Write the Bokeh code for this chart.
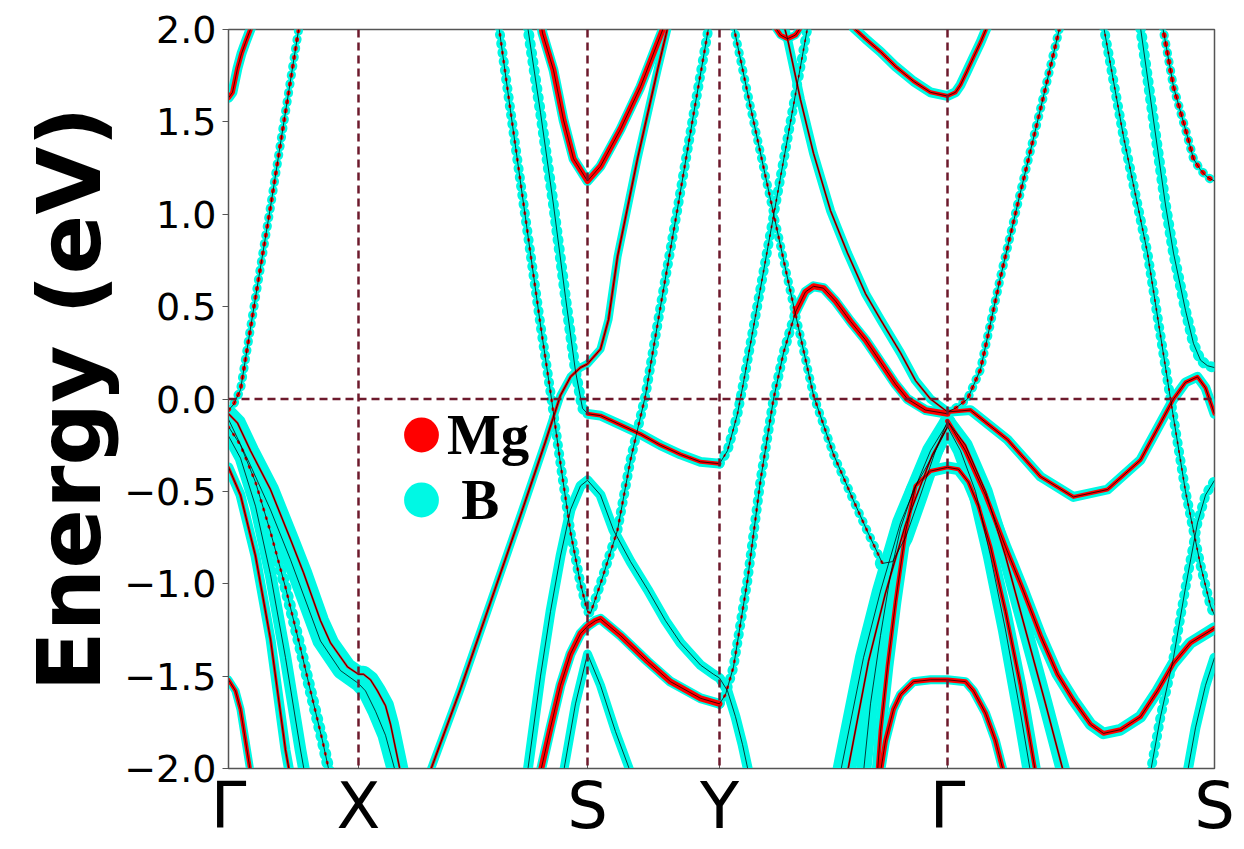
from bokeh.plotting import figure
from bokeh.models import Range1d, FixedTicker, CustomJSTickFormatter, Span, Legend, LegendItem
from bokeh.embed import file_html
from bokeh.resources import INLINE

# ---------------- data ----------------
k_ticks = [0, 130, 359, 491, 719, 986]
k_labels = ["Γ", "X", "S", "Y", "Γ", "S"]
e_ticks = [-2.0, -1.5, -1.0, -0.5, 0.0, 0.5, 1.0, 1.5, 2.0]

# Γ–X
A_k = [0, 4, 9, 13, 17, 24]
A_E = [1.63, 1.66, 1.79, 1.87, 1.93, 2.03]
B_k = [0, 5, 12, 27, 42, 56, 71]
B_E = [-0.06, -0.03, 0.05, 0.55, 1.04, 1.52, 2.03]
V1_k = [0, 9, 22, 42, 62, 75, 92, 102, 119, 130, 135, 142, 149, 157, 162, 172]
V1_E = [-0.08, -0.13, -0.28, -0.49, -0.76, -0.94, -1.20, -1.32, -1.45, -1.49, -1.49, -1.52, -1.58, -1.66, -1.76, -2.02]
V2_k = [0, 22, 42, 62, 92, 112, 130, 137, 147, 157, 167]
V2_E = [-0.11, -0.36, -0.60, -0.87, -1.31, -1.47, -1.54, -1.58, -1.69, -1.82, -2.02]
V3_k = [0, 12, 27, 42, 57, 72, 82, 94, 102]
V3_E = [-0.15, -0.25, -0.45, -0.72, -1.02, -1.35, -1.58, -1.85, -2.05]
V4_k = [0, 12, 27, 42, 57, 72, 77]
V4_E = [-0.20, -0.32, -0.58, -0.95, -1.40, -1.90, -2.05]
V5_k = [0, 12, 27, 42, 57, 62]
V5_E = [-0.37, -0.52, -0.85, -1.30, -1.90, -2.05]
D_k = [0, 7, 12, 17, 22]
D_E = [-1.52, -1.58, -1.68, -1.85, -2.02]

# X–S–Y
Eb_k = [202, 232, 262, 292, 317, 332, 342, 352, 359, 372, 380, 389, 409, 429, 440]
Eb_E = [-2.01, -1.57, -1.10, -0.63, -0.23, 0.02, 0.12, 0.17, 0.19, 0.27, 0.43, 0.77, 1.30, 1.78, 2.03]
G_k = [269, 282, 297, 312, 323, 332, 342, 352, 359, 362, 372, 389, 402, 417, 432, 449, 465, 482]
G_E = [2.07, 1.56, 0.98, 0.40, 0.0, -0.35, -0.72, -1.00, -1.15, -1.16, -1.00, -0.71, -0.33, 0.02, 0.50, 1.03, 1.54, 2.07]
F2a_k = [299, 312, 325, 337, 347, 354, 359]
F2a_E = [2.02, 1.55, 1.05, 0.55, 0.15, -0.05, -0.08]
F2b_k = [359, 372, 392, 412, 432, 452, 472, 491]
F2b_E = [-0.08, -0.09, -0.14, -0.19, -0.25, -0.30, -0.34, -0.35]
F2c_k = [491, 499, 509, 515, 532, 552, 579]
F2c_E = [-0.35, -0.28, -0.08, 0.09, 0.60, 1.20, 2.01]
H_k = [299, 302, 312, 322, 332, 342, 352, 359, 372, 385, 402, 419, 437, 452, 472, 485, 491, 499, 507, 514, 520]
H_E = [-2.02, -1.90, -1.50, -1.15, -0.85, -0.60, -0.47, -0.44, -0.52, -0.71, -0.88, -1.03, -1.20, -1.32, -1.44, -1.49, -1.51, -1.58, -1.72, -1.87, -2.02]
I_k = [312, 322, 332, 342, 352, 359, 367, 372, 392, 419, 442, 472, 491]
I_E = [-2.02, -1.78, -1.55, -1.38, -1.27, -1.23, -1.20, -1.19, -1.28, -1.42, -1.53, -1.62, -1.65]
N1_k = [491, 497, 505, 519, 532, 545, 555, 567]
N1_E = [-1.65, -1.60, -1.45, -0.98, -0.44, 0.0, 0.25, 0.47]
N2_k = [567, 577, 585, 595, 607, 622, 637, 652, 667, 679, 697, 719]
N2_E = [0.47, 0.58, 0.61, 0.60, 0.53, 0.42, 0.32, 0.20, 0.08, 0.0, -0.06, -0.08]
J_k = [335, 347, 359, 372, 387, 402]
J_E = [-2.02, -1.65, -1.38, -1.55, -1.80, -2.02]
K_k = [312, 314, 325, 335, 345, 359, 372, 392, 412, 435]
K_E = [2.05, 1.98, 1.78, 1.51, 1.30, 1.18, 1.26, 1.46, 1.69, 2.01]

# Y–Γ
M1_k = [505, 522, 542, 562, 585, 605, 625, 640, 654]
M1_E = [2.02, 1.58, 1.08, 0.58, 0.02, -0.30, -0.55, -0.73, -0.89]
M2_k = [654, 664, 677, 692, 707, 719]
M2_E = [-0.89, -0.88, -0.75, -0.52, -0.28, -0.12]
O_k = [555, 559, 572, 585, 602, 619, 637, 652, 672, 687, 702, 719]
O_E = [2.03, 1.95, 1.62, 1.33, 1.02, 0.79, 0.57, 0.43, 0.25, 0.10, 0.0, -0.07]
U_k = [542, 552, 559, 567, 577]
U_E = [2.05, 1.97, 1.95, 1.97, 2.05]
A2_k = [625, 637, 652, 667, 685, 702, 719, 727, 732, 739, 745, 752, 759]
A2_E = [2.01, 1.95, 1.88, 1.80, 1.72, 1.66, 1.64, 1.66, 1.70, 1.78, 1.85, 1.93, 2.02]
P1_k = [612, 635, 652, 672, 702, 719]
P1_E = [-2.02, -1.40, -1.04, -0.67, -0.28, -0.13]
P2_k = [619, 640, 657, 677, 704, 719]
P2_E = [-2.02, -1.42, -1.05, -0.68, -0.30, -0.15]
P3_k = [635, 642, 652, 662, 672, 685, 707, 719]
P3_E = [-2.02, -1.65, -1.28, -0.95, -0.70, -0.49, -0.28, -0.15]
P4_k = [649, 652, 659, 667, 677, 687, 702, 719, 730, 740, 750, 762, 777, 792, 807]
P4_E = [-2.02, -1.80, -1.45, -1.10, -0.72, -0.47, -0.39, -0.37, -0.38, -0.45, -0.58, -0.80, -1.15, -1.55, -2.02]
D2_k = [652, 657, 665, 672, 685, 702, 719, 737, 745, 757, 767, 775]
D2_E = [-2.02, -1.85, -1.68, -1.60, -1.53, -1.52, -1.52, -1.53, -1.58, -1.70, -1.85, -2.02]

# Γ–S
T1_k = [719, 732, 747, 762, 777, 792, 802]
T1_E = [-0.15, -0.28, -0.50, -0.85, -1.25, -1.70, -2.02]
T2_k = [719, 737, 757, 777, 797, 817, 835]
T2_E = [-0.12, -0.25, -0.50, -0.85, -1.25, -1.65, -2.02]
Iu_k = [719, 737, 757, 777, 795, 812, 829, 845, 862, 875, 892, 912, 929, 945, 962, 986]
Iu_E = [-0.12, -0.28, -0.52, -0.80, -1.04, -1.28, -1.49, -1.63, -1.76, -1.81, -1.79, -1.72, -1.58, -1.43, -1.32, -1.24]
Q_k = [719, 727, 739, 752, 772, 792, 812, 832]
Q_E = [-0.07, -0.05, 0.0, 0.16, 0.66, 1.12, 1.57, 2.03]
R_k = [719, 742, 779, 812, 845, 879, 912, 945, 957, 969, 977, 986]
R_E = [-0.07, -0.06, -0.22, -0.42, -0.53, -0.49, -0.33, 0.0, 0.09, 0.12, 0.06, -0.08]
H2_k = [922, 932, 945, 957, 969, 977, 986]
H2_E = [-2.02, -1.72, -1.40, -1.02, -0.67, -0.52, -0.44]
J2_k = [959, 967, 977, 986]
J2_E = [-2.02, -1.78, -1.55, -1.40]
G2_k = [875, 895, 919, 942, 957, 972, 982, 986]
G2_E = [2.02, 1.42, 0.79, 0.0, -0.50, -0.90, -1.12, -1.17]
F2s_k = [912, 925, 937, 945, 957, 965, 972, 979, 986]
F2s_E = [2.01, 1.51, 1.05, 0.79, 0.48, 0.30, 0.21, 0.18, 0.17]
K2_k = [934, 945, 959, 965, 972, 979, 986]
K2_E = [2.02, 1.69, 1.42, 1.30, 1.24, 1.20, 1.18]

band_names = ["A", "B", "V1", "V2", "V3", "V4", "V5", "D", "Eb", "G", "F2a", "F2b", "F2c",
              "H", "I", "N1", "N2", "J", "K", "M1", "M2", "O", "U", "A2", "P1", "P2", "P3",
              "P4", "D2", "T1", "T2", "Iu", "Q", "R", "H2", "J2", "G2", "F2s", "K2"]
# projected weights (B and Mg character) per band
B_weight = [.55, .5, .95, .9, .65, .65, .55, .45, .45, .55, .6, .55, .55,
            .55, .55, .55, .55, .5, .55, .5, .85, .5, .45, .55, .95, .9, .85,
            .65, .5, .85, .8, .65, .5, .55, .55, .55, .55, .6, .5]
Mg_weight = [.6, .5, .25, 0, .35, 0, .35, .5, .35, .35, 0, .5, .25,
             0, .75, .35, .75, 0, .75, .35, 0, .25, .6, .5, 0, .25, 0,
             .5, .6, 0, .25, .6, .5, .5, 0, 0, .25, 0, .6]

g = globals()
band_k = {n: g[n + "_k"] for n in band_names}
band_E = {n: g[n + "_E"] for n in band_names}

# ---------------- style ----------------
CYAN = "#00f8e4"
RED = "#ff0000"
DASHC = "#6d1a2c"
sampled_look = {"B", "G", "F2a", "F2c", "N1", "M1", "Q", "H2", "G2", "F2s", "V3", "K2"}

p = figure(width=1244, height=849, x_range=Range1d(0, 986), y_range=Range1d(-2.0, 2.0),
           output_backend="svg", toolbar_location=None,
           min_border_left=228, min_border_right=30, min_border_top=29, min_border_bottom=81)
p.xgrid.visible = False
p.ygrid.visible = False
p.outline_line_color = "#555555"
p.outline_line_width = 1.5
p.background_fill_color = "white"
p.border_fill_color = "white"

for n, wb in zip(band_names, B_weight):
    dash = "1 8" if n in sampled_look else "solid"
    p.line(band_k[n], band_E[n], line_color=CYAN, line_width=18 * wb,
           line_cap="round", line_join="round", line_dash=dash)
for n, wm in zip(band_names, Mg_weight):
    if wm > 0:
        dash = "1 8" if n in sampled_look else "solid"
        p.line(band_k[n], band_E[n], line_color=RED, line_width=8 * wm,
               line_cap="round", line_join="round", line_dash=dash)
for n in band_names:
    p.line(band_k[n], band_E[n], line_color="black", line_width=1, line_alpha=0.75)

for kt in k_ticks[1:-1]:
    p.add_layout(Span(location=kt, dimension="height", line_color=DASHC,
                      line_width=2.5, line_dash="8 5"))
p.add_layout(Span(location=0, dimension="width", line_color=DASHC,
                  line_width=2.5, line_dash="8 5"))

# axes
p.xaxis.ticker = FixedTicker(ticks=k_ticks, minor_ticks=[])
p.xaxis.formatter = CustomJSTickFormatter(args=dict(pos=k_ticks, names=k_labels),
    code="const i = pos.indexOf(tick); return i < 0 ? '' : names[i];")
p.yaxis.ticker = FixedTicker(ticks=e_ticks, minor_ticks=[])
p.yaxis.formatter = CustomJSTickFormatter(code="return tick.toFixed(1).replace('-', '\\u2212');")
for ax in (p.xaxis[0], p.yaxis[0]):
    ax.minor_tick_out = 0
    ax.minor_tick_in = 0
    ax.axis_line_color = "#555555"
    ax.major_tick_line_color = "#555555"
    ax.major_label_text_font = "DejaVu Sans"
    ax.major_label_text_color = "black"
p.yaxis.major_tick_in = 0
p.yaxis.major_tick_out = 6
p.xaxis.major_tick_in = 6
p.xaxis.major_tick_out = 0
p.yaxis.major_label_text_font_size = "38px"
p.yaxis.major_label_standoff = 6
p.xaxis.major_label_text_font_size = "64px"
p.xaxis.major_label_standoff = 0
p.yaxis.axis_label = "Energy (eV)"
p.yaxis.axis_label_text_font = "DejaVu Sans"
p.yaxis.axis_label_text_font_style = "bold"
p.yaxis.axis_label_text_font_size = "88px"
p.yaxis.axis_label_text_color = "black"
p.yaxis.axis_label_standoff = 0

# legend
r_mg = p.scatter([float("nan")], [float("nan")], marker="circle",
                 fill_color=RED, line_color=RED, line_width=14)
r_b = p.scatter([float("nan")], [float("nan")], marker="circle",
                fill_color=CYAN, line_color=CYAN, line_width=14)
legend = Legend(items=[LegendItem(label="Mg", renderers=[r_mg]),
                       LegendItem(label="\u00a0B", renderers=[r_b])],
                location=(157, 226), glyph_width=52, glyph_height=65, spacing=0,
                label_standoff=0, label_text_font="Liberation Serif",
                label_text_font_style="bold", label_text_font_size="57px",
                label_text_color="black",
                background_fill_alpha=0, border_line_alpha=0, padding=10, margin=0)
p.add_layout(legend)

open("out.html", "w").write(file_html(p, INLINE))
